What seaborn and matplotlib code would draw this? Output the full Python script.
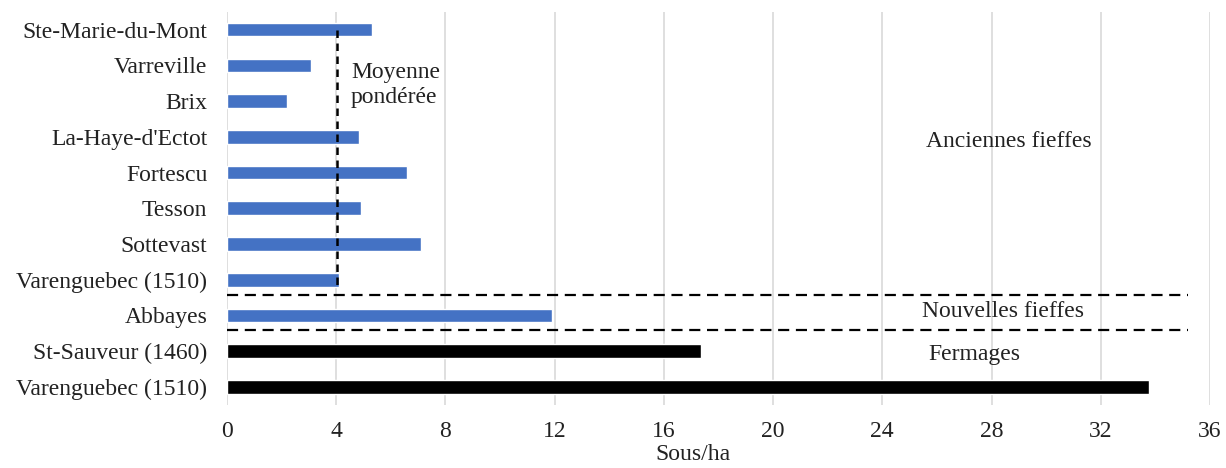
import pandas as pd
import matplotlib.pyplot as plt
import seaborn as sns

# Data (sous per hectare)
places = ["Ste-Marie-du-Mont", "Varreville", "Brix", "La-Haye-d'Ectot", "Fortescu",
          "Tesson", "Sottevast", "Varenguebec (1510)", "Abbayes",
          "St-Sauveur (1460)", "Varenguebec (1510)"]
values = [5.3, 3.1, 2.2, 4.85, 6.6, 4.9, 7.1, 4.1, 11.9, 17.35, 33.75]
groups = ["fieffe"] * 9 + ["fermage"] * 2
mean_weighted = 4.05
xticks = [0, 4, 8, 12, 16, 20, 24, 28, 32, 36]

df = pd.DataFrame({"key": [str(i) for i in range(len(places))],
                   "val": values, "grp": groups})

sns.set_style("white")
plt.rcParams["font.family"] = ["Liberation Serif", "DejaVu Serif"]
plt.rcParams["font.size"] = 17

fig, ax = plt.subplots(figsize=(12.26, 4.68), dpi=100)
fig.subplots_adjust(left=0.185, right=0.987, top=0.975, bottom=0.135)

sns.barplot(data=df, x="val", y="key", hue="grp", orient="h", dodge=False,
            palette={"fieffe": "#4472C4", "fermage": "black"}, saturation=1,
            width=0.38, legend=False, ax=ax, zorder=3)

ax.set_xlim(0, 36)
ax.set_ylim(len(places) - 0.5, -0.5)
ax.set_xticks(xticks)
ax.set_xticklabels([str(t) for t in xticks], color="#222222")
ax.set_yticks(range(len(places)))
ax.set_yticklabels(places, color="#222222")
ax.tick_params(axis="x", length=0, pad=12)
ax.tick_params(axis="y", length=0, pad=14)
ax.set_ylabel("")
ax.set_xlabel("Sous/ha", color="#222222", labelpad=0)
ax.xaxis.set_label_coords(0.474, -0.1)
ax.grid(axis="x", color="#d9d9d9", lw=1.2, zorder=0)
sns.despine(ax=ax, left=True, bottom=True)

# weighted mean marker
ax.plot([mean_weighted, mean_weighted], [0, 7.2], color="black",
        lw=1.8, ls=(0, (3, 2.2)), zorder=4)
ax.text(4.55, 1.55, "Moyenne\npondérée", ha="left", va="center",
        color="#222222", linespacing=1.3)

# group separators
for yy in [7.42, 8.42]:
    ax.plot([0, 35.2], [yy, yy], color="black", lw=1.6, ls=(0, (5, 3)), zorder=4)

ax.text(25.6, 3.12, "Anciennes fieffes", ha="left", va="center", color="#222222")
ax.text(25.45, 7.88, "Nouvelles fieffes", ha="left", va="center", color="#222222")
ax.text(25.7, 9.1, "Fermages", ha="left", va="center", color="#222222")

plt.savefig("out.png", dpi=100)
